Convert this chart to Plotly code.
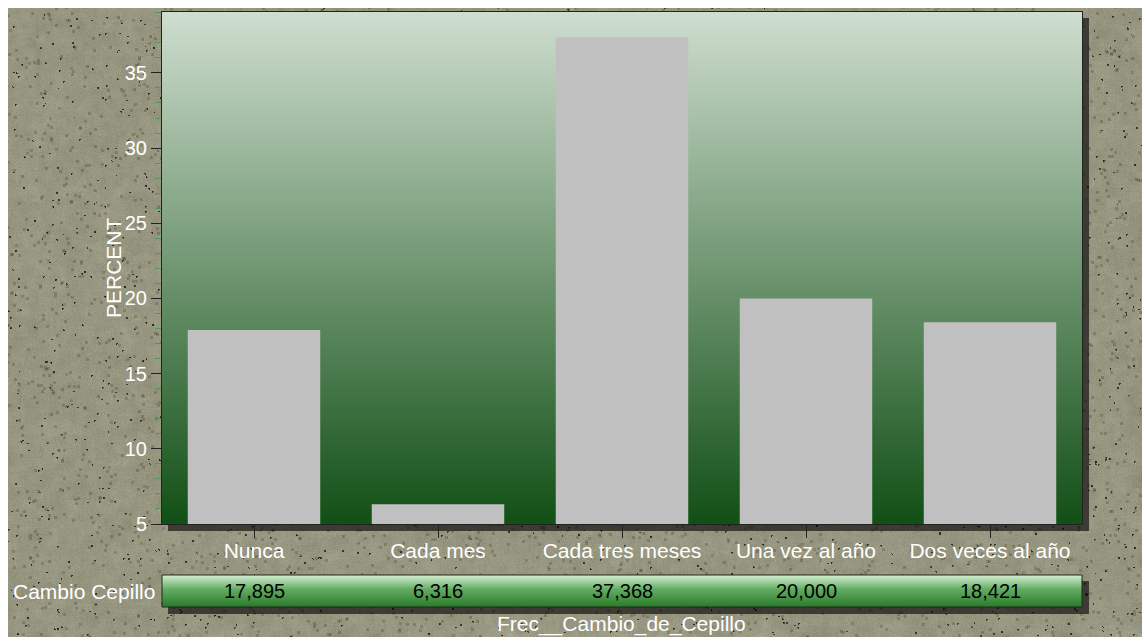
import base64
import struct
import zlib

import numpy as np
import plotly.graph_objects as go

# ---- data -------------------------------------------------------------
categories = ["Nunca", "Cada mes", "Cada tres meses", "Una vez al año", "Dos veces al año"]
percent = [17.895, 6.316, 37.368, 20.000, 18.421]
row_label = "Cambio Cepillo"
x_title = "Frec__Cambio_de_Cepillo"
y_title = "PERCENT"

# ---- canvas geometry (pixels) -----------------------------------------
W, H = 1142, 637
L, R, T, B = 162, 60, 12, 113
PW, PH = W - L - R, H - T - B
EDGE = 8  # white strip along the top and left edges


def png_uri(arr):
    """Encode an HxWx3 uint8 array as a PNG data URI."""
    h, w, _ = arr.shape
    raw = b"".join(b"\x00" + arr[i].tobytes() for i in range(h))

    def chunk(tag, data):
        return (struct.pack(">I", len(data)) + tag + data
                + struct.pack(">I", zlib.crc32(tag + data) & 0xFFFFFFFF))

    png = (b"\x89PNG\r\n\x1a\n"
           + chunk(b"IHDR", struct.pack(">IIBBBBB", w, h, 8, 2, 0, 0, 0))
           + chunk(b"IDAT", zlib.compress(raw, 9))
           + chunk(b"IEND", b""))
    return "data:image/png;base64," + base64.b64encode(png).decode()


def box_blur(a, k):
    out = a.astype(float)
    for axis in (0, 1):
        pad = [(k, k) if ax == axis else (0, 0) for ax in (0, 1)]
        c = np.cumsum(np.pad(out, pad, mode="edge"), axis=axis)
        c = np.insert(c, 0, 0, axis=axis)
        n = out.shape[axis]
        hi = [slice(None), slice(None)]
        lo = [slice(None), slice(None)]
        hi[axis] = slice(2 * k + 1, 2 * k + 1 + n)
        lo[axis] = slice(0, n)
        out = (c[tuple(hi)] - c[tuple(lo)]) / (2 * k + 1)
    return out


# ---- stone texture backdrop with drop shadows -------------------------
rng = np.random.default_rng(11)
base = np.array([151.0, 150.0, 128.0])
mottle = box_blur(rng.normal(0, 1, (H, W)), 4) * 20 + box_blur(rng.normal(0, 1, (H, W)), 14) * 36
fine = rng.normal(0, 3.5, (H, W))
tex = base[None, None, :] + (mottle + fine)[:, :, None]

# soft grey flecks
flecks = box_blur((rng.random((H, W)) < 0.005).astype(float), 1) * 9
tex -= (flecks * 24)[:, :, None]

# dark grains of 1-4 px
seeds = rng.random((H, W)) < 0.0030
grains = (seeds
          | (np.roll(seeds, 1, axis=1) & (rng.random((H, W)) < 0.8))
          | (np.roll(seeds, 1, axis=0) & (rng.random((H, W)) < 0.6))
          | (np.roll(np.roll(seeds, 1, axis=0), 1, axis=1) & (rng.random((H, W)) < 0.4)))
dark = np.array([56.0, 52.0, 42.0])
tex[grains] = dark + rng.normal(0, 12, (int(grains.sum()), 1))

# shadows behind the plot area and the data row
row_top, row_bot = 575, 607
tex[T + 6:T + PH + 7, L + 6:L + PW + 7] *= 0.40
tex[row_top + 6:row_bot + 7, L + 6:L + PW + 7] *= 0.40
tex[:EDGE, :] = 255
tex[:, :EDGE] = 255
texture = np.clip(tex, 0, 255).astype(np.uint8)


# ---- vertical gradients ------------------------------------------------
def gradient(stops, height, width=4):
    pos = np.array([s[0] for s in stops])
    cols = np.array([s[1] for s in stops], dtype=float)
    t = np.linspace(0, 1, height)
    rgb = np.stack([np.interp(t, pos, cols[:, i]) for i in range(3)], axis=1)
    return np.repeat(rgb[:, None, :], width, axis=1).astype(np.uint8)


plot_grad = gradient([(0, (207, 222, 207)), (1, (18, 80, 22))], PH)
row_grad = gradient([(0, (210, 238, 210)), (0.45, (98, 172, 98)), (1, (44, 124, 44))], row_bot - row_top)

row_y0 = (T + PH - row_top) / PH
row_y1 = (T + PH - row_bot) / PH
row_mid = (row_y0 + row_y1) / 2

fig = go.Figure()
fig.add_trace(go.Bar(
    x=categories, y=percent,
    marker=dict(color="#c0c0c0", line=dict(width=0)),
    hoverinfo="x+y",
))

images = [
    dict(source=png_uri(texture), xref="paper", yref="paper",
         x=-L / PW, y=1 + T / PH, sizex=W / PW, sizey=H / PH,
         xanchor="left", yanchor="top", sizing="stretch", layer="below"),
    dict(source=png_uri(plot_grad), xref="paper", yref="paper",
         x=0, y=1, sizex=1, sizey=1,
         xanchor="left", yanchor="top", sizing="stretch", layer="below"),
    dict(source=png_uri(row_grad), xref="paper", yref="paper",
         x=0, y=row_y0, sizex=1, sizey=row_y0 - row_y1,
         xanchor="left", yanchor="top", sizing="stretch", layer="below"),
]

font = "Liberation Sans, Arial, sans-serif"
annotations = [
    dict(text=f"{v:.3f}".replace(".", ","), x=c, xref="x", y=row_mid, yref="paper",
         showarrow=False, font=dict(family=font, size=20, color="#000000"),
         xanchor="center", yanchor="middle")
    for c, v in zip(categories, percent)
]
annotations += [
    dict(text=row_label, x=-5 / PW, xref="paper", y=row_mid, yref="paper",
         showarrow=False, font=dict(family=font, size=21, color="#ffffff"),
         xanchor="right", yanchor="middle"),
    dict(text=x_title, x=(621 - L) / PW, xref="paper", y=(T + PH - 624) / PH, yref="paper",
         showarrow=False, font=dict(family=font, size=21, color="#ffffff"),
         xanchor="center", yanchor="middle"),
    dict(text=y_title, x=(113 - L) / PW, xref="paper", y=0.5, yref="paper",
         showarrow=False, textangle=-90, font=dict(family=font, size=21, color="#ffffff"),
         xanchor="center", yanchor="middle"),
]

shapes = [
    dict(type="rect", xref="paper", yref="paper", x0=0, x1=1, y0=row_y1, y1=row_y0,
         line=dict(color="#1c2a1c", width=1), fillcolor="rgba(0,0,0,0)"),
]

fig.update_layout(
    width=W, height=H,
    margin=dict(l=L, r=R, t=T, b=B, pad=0),
    paper_bgcolor="#ffffff",
    plot_bgcolor="rgba(0,0,0,0)",
    bargap=0.28,
    showlegend=False,
    images=images,
    annotations=annotations,
    shapes=shapes,
    font=dict(family=font, size=20, color="#ffffff"),
)
fig.update_xaxes(
    showgrid=False, zeroline=False,
    showline=True, mirror=True, linecolor="#222222", linewidth=1,
    ticks="outside", ticklen=13, tickcolor="#222222",
    ticklabelstandoff=-5,
    tickfont=dict(family=font, size=21, color="#ffffff"),
)
fig.update_yaxes(
    range=[5, 39.05], dtick=5, tick0=5,
    showgrid=False, zeroline=False,
    showline=True, mirror=True, linecolor="#222222", linewidth=1,
    ticks="outside", ticklen=10, tickcolor="#222222",
    minor=dict(dtick=1, ticks="outside", ticklen=6, tickcolor="#4f9a4f", showgrid=False),
    tickfont=dict(family=font, size=20, color="#ffffff"),
)

fig.write_html("out.html")
